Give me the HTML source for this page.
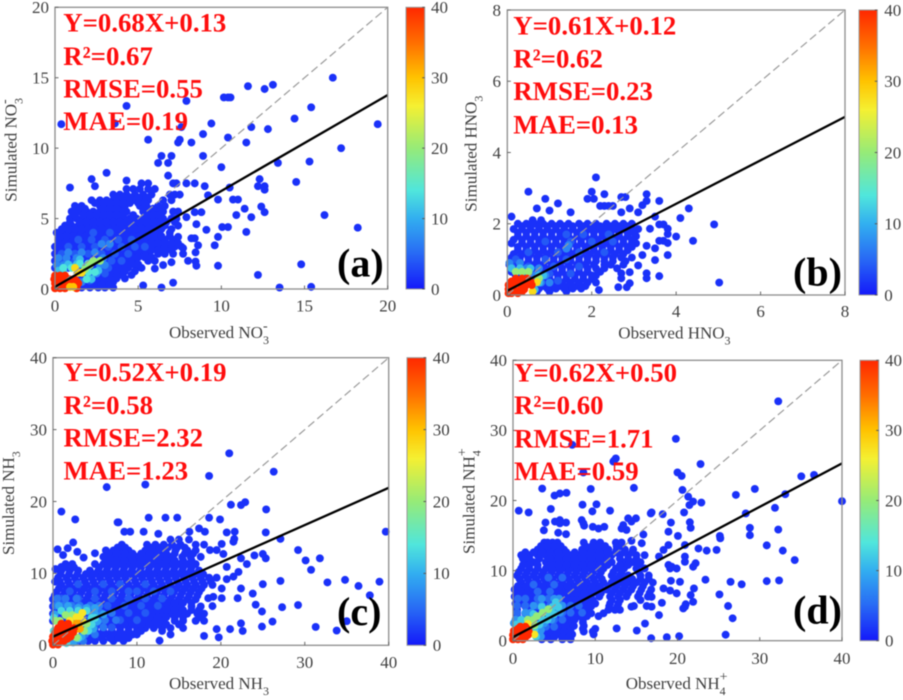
<!DOCTYPE html>
<html lang="en">
<head>
<meta charset="utf-8">
<title>Observed vs simulated scatter density panels</title>
<style>
html,body{margin:0;padding:0;background:#fff;width:903px;height:700px;overflow:hidden}
svg{display:block;filter:blur(.5px)}
text{font-family:"Liberation Serif",serif}
.tick{font-size:17px;fill:#404040}
.axis-title{font-size:17px;fill:#404040}
.stat{font-size:26.8px;font-weight:bold;fill:#ff0d0d}
.tag{font-size:40px;font-weight:bold;fill:#000}
</style>
</head>
<body>
<svg id="figure" width="903" height="700" viewBox="0 0 903 700" xmlns="http://www.w3.org/2000/svg">
<defs>
<linearGradient id="cbGradient" x1="0" y1="1" x2="0" y2="0"></linearGradient>
</defs>
<rect width="903" height="700" fill="#fff"/>

<g id="panel-a"></g>
<g id="panel-b"></g>
<g id="panel-c"></g>
<g id="panel-d"></g>

<g>
<text class="stat" x="63.3" y="31.7">Y=0.68X+0.13</text>
<text class="stat" x="63.3" y="65">R²=0.67</text>
<text class="stat" x="63.3" y="97.3">RMSE=0.55</text>
<text class="stat" x="63.3" y="130">MAE=0.19</text>
<text class="tag" x="337" y="276.7">(a)</text>
<text class="axis-title" x="169" y="338">Observed NO<tspan font-size="12" dy="6">3</tspan><tspan font-size="14" dx="-6" dy="-14">-</tspan></text>
<text class="axis-title" transform="translate(16.7,201.7) rotate(-90)">Simulated NO<tspan font-size="12" dy="6">3</tspan><tspan font-size="14" dx="-6" dy="-14">-</tspan></text>
</g>

<g>
<text class="stat" x="513.3" y="34.3">Y=0.61X+0.12</text>
<text class="stat" x="513.3" y="67.7">R²=0.62</text>
<text class="stat" x="513.3" y="100">RMSE=0.23</text>
<text class="stat" x="513.3" y="133.3">MAE=0.13</text>
<text class="tag" x="793" y="285.7">(b)</text>
<text class="axis-title" x="618.3" y="338.3">Observed HNO<tspan font-size="12" dy="6">3</tspan></text>
<text class="axis-title" transform="translate(476.7,211.7) rotate(-90)">Simulated HNO<tspan font-size="12" dy="6">3</tspan></text>
</g>

<g>
<text class="stat" x="63.5" y="381">Y=0.52X+0.19</text>
<text class="stat" x="63.5" y="414">R²=0.58</text>
<text class="stat" x="63.5" y="446.7">RMSE=2.32</text>
<text class="stat" x="63.5" y="479.3">MAE=1.23</text>
<text class="tag" x="337" y="625">(c)</text>
<text class="axis-title" x="169" y="689">Observed NH<tspan font-size="12" dy="6">3</tspan></text>
<text class="axis-title" transform="translate(14,555) rotate(-90)">Simulated NH<tspan font-size="12" dy="6">3</tspan></text>
</g>

<g>
<text class="stat" x="514" y="381.7">Y=0.62X+0.50</text>
<text class="stat" x="514" y="414">R²=0.60</text>
<text class="stat" x="514" y="447.3">RMSE=1.71</text>
<text class="stat" x="514" y="480">MAE=0.59</text>
<text class="tag" x="793" y="623.3">(d)</text>
<text class="axis-title" x="625.7" y="689">Observed NH<tspan font-size="12" dy="6">4</tspan><tspan font-size="14" dx="-6" dy="-14">+</tspan></text>
<text class="axis-title" transform="translate(474.3,554) rotate(-90)">Simulated NH<tspan font-size="12" dy="6">4</tspan><tspan font-size="14" dx="-6" dy="-14">+</tspan></text>
</g>
</svg>

<script>
// Tick labels
const ticksA = [0, 5, 10, 15, 20];
const ticksB = [0, 2, 4, 6, 8];
const ticksC = [0, 10, 20, 30, 40];
const ticksD = [0, 10, 20, 30, 40];
const colorbarTicks = [0, 10, 20, 30, 40];

// Fit line: simulated value at x = 0 and at x = axis maximum
const fitA = [0.15, 13.77];
const fitB = [0.12, 5.0];
const fitC = [1.2, 21.9];
const fitD = [0.5, 25.3];

// Colour map: [density, r, g, b]
const colorStops = [[0,20,25,250],[5,40,105,245],[10,50,175,240],[14,80,230,220],[20,150,235,120],[26,245,240,50],[30,255,195,0],[35,255,110,0],[40,255,40,0]];

// Points grouped by density. Group = [density, row, row, ...]; row = [simulated, observed, observed, ...]
const pointsA = [
[1.5,[11.7,.38,19.4],[13,4.3],[11.75,3.6,9.4],[13.35,7.9],[14.4,11.6],[14.2,12.6],[14.5,13.1],[15,16.7],[12.9,15.4],[12.1,14.4],[13.6,10.15,10.4,10.55],[11.5,11.8,7.6],[11.35,12.8],[11,8.9],[10.75,10.4],[10.4,11.5,7.4,8.2],[10.6,5.6,7.5],[9.45,8.9,6.4,7],[8.95,6.2,6.8,13.4],[8.65,10],[8.05,6.8],[8.25,3.1],[7.8,2.2,12.3],[7.3,2.4,12.2,12.6,9],[7.2,.9,10.5],[7.7,4.3],[10,17.2],[9.05,15.3],[7.6,14.5],[7.05,12.6],[7.5,8.4,7.9,7.3,7.1],[6.65,9.2],[6.35,9.8,10.7,11],[5.7,11.4],[5.85,12.4],[5.45,12.6,8.8,8.4],[5.1,11.8,7.9],[5.25,10.9,16.2],[4.35,18.2],[4.4,10.05,10.4],[4.6,8.5],[4.2,9.1],[3.7,9.8,7.4],[3.1,9.6,8.6],[4.05,11.5],[1.75,14.8],[1,12.2],[1.65,9.8,8.5],[.45,7.1],[.1,6.4,13.5],[.25,5.3],[.15,15.4],[1.95,8.45],[2,8],[1.45,6],[1.7,6.5],[1.9,7],[2.6,8.45],[3.6,8.2,8.4],[2.9,7.7],[2.5,7.7],
[7.5,5.2,5.6],[7.1,4.3,4.7,5.1,5.6,6],[6.7,3.5,3.9,4.3,4.8,5.3,5.8,6.9,7.2,7.5],[6.3,2.2,2.7,3.1,3.5,3.9,4.3,4.8,5.2,5.6,6.5,7],[5.9,1.2,1.6,2.7,3.1,3.5,3.9,4.2,5.1,5.5,6.2,6.6],[5.5,1,1.5,1.9,2.3,2.7,3.1,3.5,3.9,4.3,5.3,5.7,6.1,6.5,7.1,7.4],[5,.9,1.3,1.7,2.1,2.5,2.9,3.3,3.7,4.1,4.5,4.9,5.3,5.7,6.1,6.5,7,7.3],[4.5,.6,1,1.4,1.8,2.2,2.6,3,3.4,3.8,4.2,4.6,5,5.4,5.8,6.2,6.6,7.4],[4,.1,.5,.9,1.3,1.7,2.1,2.5,2.9,3.3,3.7,4.1,4.5,4.9,5.3,5.7,6.1,6.9],[3.5,.2,.6,1,1.4,1.8,2.2,2.6,3,3.4,3.8,4.2,4.6,5,5.4,5.8,6.2,6.6,7.1],[3,0,.4,.8,1.2,1.6,2,2.4,2.8,3.2,3.6,4,4.4,4.8,5.2,5.6,6,6.4,6.8,7.2,7.6],[2.5,0,.4,.8,1.2,1.6,2,2.4,2.8,3.2,3.6,4,4.4,4.8,5.2,5.6,6.2,6.6,7.1],[2,0,.4,.8,1.2,1.6,2,2.4,2.8,3.2,3.6,4,4.4,4.8,5.6,6],[1.5,0,.4,.8,1.2,1.6,2,2.4,2.8,3.2,3.6,4,4.4,4.9,5.2],[1,1.5,1.9,2.3,2.7,3.1,3.5,4,4.6],[.5,1.5,1.9,2.3,2.7,3.1,3.5],[.1,1.6,2.1,2.6,3,3.5],
[6.5,3.7,4.1,4.5,5,5.5],[6.1,2.4,2.9,3.3,3.7,4.1,4.5,5,5.4],[5.7,1.4,1.8,2.9,3.3,3.7,5.3,5.9,6.4],[5.25,1.2,1.7,2.1,2.5,2.9,3.3,3.7,4.1,4.7,5.5,5.9,6.3],[4.75,.9,1.5,1.9,2.3,2.7,3.1,3.5,3.9,4.3,4.7,5.1,5.5,5.9,6.3,6.7,7.2],[4.25,.4,.8,1.2,1.6,2,2.4,2.8,3.2,3.6,4,4.4,4.8,5.2,5.6,6,6.4,7],[3.75,.3,.7,1.1,1.5,1.9,2.3,2.7,3.1,3.5,3.9,4.3,4.7,5.1,5.5,5.9,6.4,6.9],[3.25,.2,.6,1,1.4,1.8,2.2,2.6,3,3.4,3.8,4.2,4.6,5,5.4,5.8,6.2,6.6,7,7.4],[2.75,.2,.6,1,1.4,1.8,2.2,2.6,3,3.4,3.8,4.2,4.6,5,5.4,5.8,6.2,6.6,7],[2.25,.2,.6,1,1.4,1.8,2.2,2.6,3,3.4,3.8,4.2,4.6,5,5.4,5.8],[1.75,.2,.6,1,1.4,1.8,2.2,2.6,3,3.4,3.8,4.2,4.6,5],[1.25,1.7,2.1,2.5,2.9,3.3,3.7,4.2,4.8],[.75,1.7,2.1,2.5,2.9,3.3,3.7,4.2],[.3,1.8,2.3,2.8,3.3]],
[4,[4,2.3,3.3],[3.5,1.4,2.2,3,3.8,4.6],[3,.8,1.6,2.4,3.2,4,4.8,5.4],[2.5,.4,1.2,2,2.8,3.6,4.4],[2,.4,1.2,2.8,3.4,4],[1.5,1.5,2.8,3.2],[1.1,3],[.6,2.1]],
[7,[3.2,2.8,3.3],[2.6,.8,1.6,2.4],[2.2,.2,.7,1.3,2.9],[1.7,.1,.5,2.7,3],[1.1,2.5],[.5,1.6]],
[11,[2.1,1.5],[1.75,.8,1.3],[1.3,.2,.5,2.6],[.7,2.2]],
[14,[1.5,.5,1],[1.8,1.5,2],[1.2,2,2.4],[.7,1.9]],
[20,[2,2.3,2.7],[1.7,2.1],[1.4,1.8]],
[28,[1.5,1.2],[1.15,1.4,1.6]],
[40,[.95,0,.3,.6],[.7,-.05,.25,.55,.85,1.15],[.55,.15,.45,.75,1.05,1.3],[.4,0,.3,.6,.9,1.2,1.4],[.2,.15,.45,.75,1],[.05,0,.3,.6,1.3]],
[30,[.15,.9,1.1]]
];

const pointsB = [
[1.5,[3.3,2.1],[2.9,.5,2],[2.7,.9,1.9,2.05],[2.57,1.2],[2.43,.7,4.3,2.9],[2.37,1],[2.2,.1,3.5],[2.32,1.5,2.7,3.1],[2.83,2.3,3.3],[2.75,2.7,2.8],[2.64,3.6,3.3],[2.52,3.2],[2.16,4.1],[1.98,4.9,3.6,3.7],[1.52,4.4,3.6,3.7],[1.64,4],[1.86,3.8,3.38],[1.71,3.8],[1.46,3.8],[1.12,3.8,3.2],[1.31,3.5],[.98,3.5],[.83,3.1],[.61,3.3,2.7],[.47,3.3,2.7],[.53,3.6],[.35,5.02],[.14,2.17],[.64,2.9],[.33,2.9],[.22,2.63,2.83],[1.38,3.3],[2.5,2.2,2.3,2.4,2.5],
[2.1,.6,.8],[2,.25,.45,.65,.85,1.05,1.25,1.45,1.7,1.9,2.1,2.35,2.55,2.75,2.95],[1.85,.15,.35,.55,.75,.95,1.15,1.35,1.55,1.75,1.95,2.15,2.35,2.55,2.75,2.95,3.1],[1.65,.25,.45,.65,.85,1.05,1.25,1.45,1.65,1.85,2.05,2.25,2.45,2.65,2.85,3.05],[1.45,.1,.35,.55,.75,.95,1.15,1.35,1.55,1.75,1.95,2.15,2.35,2.55,2.75,2.95,3.05],[1.25,.25,.45,.65,.85,1.05,1.25,1.45,1.65,1.85,2.05,2.25,2.45,2.65,2.85],[1.05,.1,.3,.5,.7,.9,1.1,1.3,1.5,1.7,1.9,2.1,2.3,2.5,2.7,2.95],[.85,.05,.25,.45,.65,.85,1.05,1.25,1.45,1.65,1.85,2.05,2.3,2.45,2.75],[.65,.1,.3,.5,.7,.9,1.1,1.3,1.5,1.7,1.9,2.2],[.45,.4,.6,.8,1,1.2,1.4,1.6,1.8,2],[.25,.65,.85,1.05,1.25,1.45,1.65,1.85],[.1,.7,1,1.4],
[1.93,.35,.55,.75,.95,1.15,1.35,1.55,1.8,2,2.2,2.45,2.65,2.85],[1.75,.25,.45,.65,.85,1.05,1.25,1.45,1.65,1.85,2.05,2.25,2.45,2.65,2.85,3],[1.55,.15,.35,.55,.75,.95,1.15,1.35,1.55,1.75,1.95,2.15,2.35,2.55,2.75,2.95],[1.35,.25,.45,.65,.85,1.05,1.25,1.45,1.65,1.85,2.05,2.25,2.45,2.65,2.85,2.95],[1.15,.15,.35,.55,.75,.95,1.15,1.35,1.55,1.75,1.95,2.15,2.35,2.55,2.75],[.95,.1,.3,.5,.7,.9,1.1,1.3,1.5,1.7,1.9,2.1,2.3,2.5,2.8],[.75,.1,.3,.5,.7,.9,1.1,1.3,1.5,1.7,1.9,2.1,2.3,2.6],[.55,.2,.4,.6,.8,1,1.2,1.4,1.6,1.8,2,2.1],[.35,.5,.7,.9,1.1,1.3,1.5,1.7,1.9,2.1],[.18,.75,.95,1.15,1.35,1.55,1.75]],
[4,[1.7,1.4,1.8,2.4],[1.5,.9,1.5,2,2.5],[1.2,.5,1.2,1.7,2.3],[1,.2,.9,1.4],[.8,.1,.5,1.1,1.7],[.6,.5,1,1.5],[.4,.7,1.2]],
[7,[1.4,1.45],[1.3,1.4],[.9,.05,.3],[.75,.1,.45,.75],[.55,.65,.9],[.35,.8,1]],
[11,[.75,.1,.3,.55],[.55,.75,.85],[.35,.75],[.15,.65]],
[20,[.65,.2,.35,.5],[.47,.75]],
[28,[.36,.7],[.1,.6]],
[40,[.46,.2,.35,.47],[.38,.1,.25,.4,.55],[.33,.1,.22,.35,.5],[.28,.03,.15,.3,.45,.58],[.16,.03,.12,.25,.4],[.1,.1,.2,.35],[.05,.03,.1,.25]]
];

const pointsC = [
[1.5,[26.7,21],[24.15,26.3],[23.55,18.6],[22.35,11],[22,6.4],[18.6,1],[17.5,2.65,19.9],[17.1,7.8,7.7],[17.75,11.4,13.4,14.8,18.6],[19.55,21.2],[19.5,22.4],[19.9,22.9],[18.9,25.4],[15.7,25.35,20.7],[15.8,39.65,21.65,10.8,8.5,9.2,16.25,18.1],[14.8,27.1,21.6],[13.25,29.2,18.7,19.5],[11.8,30.1],[12.1,31.8,22.4,25.35],[10.5,30.75],[8.95,27.1],[8.5,25],[8.75,32.7],[9.1,34.8],[8.25,36.4],[8.85,38.9],[6.95,37.75],[5.6,29.2],[5.3,27.3],[5.65,24.15],[4.7,24.9],[3.3,26.15],[2.6,24.9],[2.55,31.3],[2.05,33.8],[3.35,35],[2.25,21.1,19.5],[2,22.6],[3.05,22.4],[1.3,18],[1.1,19.75],[.65,12.7],[7.2,23.8],[7.9,22.4,20.1],[6.55,22,20.1,18.5],[12.7,25,20.3],[12.5,24],[11.3,23.1],[14.4,21.5],[14.1,20.1],[14.3,2.4],[13.5,1.75],[13.35,.55],[12.55,1.2],[13,2.9],[12.2,3.65],[12.8,5],[10.6,.3],[8.85,.25],[10.9,1,20.7],[15.5,12.55],[16.25,17.4],[10.2,22.1],[9.55,21.5],[9.2,20.7],[6.75,19.1],[5.45,19],
[14.7,14,15,16.2],[14,8.2,11.2,12.2,13.2,14.2,15.2,17,18],[13.2,6.3,7.2,8.2,9,11,12,13,14.6,16,17],[12.3,6,7,8,9,10,11,12,13,14,15.4,16.4,17.6],[11.3,1.5,2.3,5,6,7,8,9,10,11,12,13,14,15,16,17],[10.4,1,2,3,4.4,5.4,6.4,7.4,8.4,9.4,10.4,11.4,12.4,13.4,14.4,15.4,16.4,17.4],[9.4,.6,1.6,2.6,3.6,4.6,5.6,6.6,7.6,8.6,9.6,10.6,11.6,12.6,13.6,14.6,15.6,16.6,17.6,18.6,19.5],[8.4,1,2,3,4,5,6,7,8,9,10,11,12,13,14,15,16,17,18,19],[7.4,.4,1.4,2.4,3.4,4.4,5.4,6.4,7.4,8.4,9.4,10.4,11.4,12.4,13.4,14.4,15.4,16.4,17.4],[6.4,0,1,2,3,4,5,6,7,8,9,10,11,12,13,14,15,16,17],[5.4,0,1,2,3,4,5,6,7,8,9,10,11,12,13,14,15,16.5,17.6],[4.4,0,1,2,3,4,5,6,7,8,9,10,11,12,13,14,15,16,17.2,18],[3.4,0,1,2,3,4,5,6,7,8,9,10,11,12,13,14.5,15.5,17,18],[2.4,4,5,6,7,8,9,10,11,12,13,14,15.5],[1.5,3.5,4.5,5.5,6.5,7.5,8.5,9.5,10,14],[.6,3.2,4.2,5,6,7.2,8.4],
[13.6,7.7,8.6,11.7,12.7,13.7,14.8,15.7],[12.75,6.6,7.6,8.6,9.5,10.5,11.5,12.5,13.5,14.5,15.7,16.7],[11.8,6.5,7.5,8.5,9.5,10.5,11.5,12.5,13.5,14.5,15.5,16.5],[10.85,1.5,2.5,5.5,6.5,7.5,8.5,9.5,10.5,11.5,12.5,13.5,14.5,15.5,16.5],[9.9,.9,1.9,2.9,3.9,4.9,5.9,6.9,7.9,8.9,9.9,10.9,11.9,12.9,13.9,14.9,15.9,16.9,17.9],[8.9,.8,1.8,2.8,3.8,4.8,5.8,6.8,7.8,8.8,9.8,10.8,11.8,12.8,13.8,14.8,15.8,16.8,17.8,18.8],[7.9,.7,1.7,2.7,3.7,4.7,5.7,6.7,7.7,8.7,9.7,10.7,11.7,12.7,13.7,14.7,15.7,16.7,17.7],[6.9,.2,1.2,2.2,3.2,4.2,5.2,6.2,7.2,8.2,9.2,10.2,11.2,12.2,13.2,14.2,15.2,16.2,17.2],[5.9,.5,1.5,2.5,3.5,4.5,5.5,6.5,7.5,8.5,9.5,10.5,11.5,12.5,13.5,14.5,15.5,16.5],[4.9,.5,1.5,2.5,3.5,4.5,5.5,6.5,7.5,8.5,9.5,10.5,11.5,12.5,13.5,14.5,15.5,16.5,17.4],[3.9,.5,1.5,2.5,3.5,4.5,5.5,6.5,7.5,8.5,9.5,10.5,11.5,12.5,13.5,14.5,15.5,17.5],[2.9,4.5,5.5,6.5,7.5,8.5,9.5,10.5,11.5,12.5,13.5,15],[2,4,5,6,7,8,9,10,10.5,13],[1,3.8,4.8,5.8,6.8,7.8,9]],
[4,[8.5,3,6,8,11],[7.5,2,5,7,9,10,12,14],[6.5,1,3,5,7,9,11,13],[5.5,.5,2.5,4.5,6.5,8.5,10.5,12.5],[4.5,3,5,7,9,11],[3.5,4,6,8,10],[2.5,5,7]],
[6,[6.5,.5,1.5,2.8],[5.5,.3,1.2,2.2,3.2,4.4,5.5],[4.5,4.5,5.7,7],[3.5,5,6.2,7.5],[2.5,4.8,6],[1.5,3.8,5],[.6,2.8,3.6]],
[9,[5.5,.7,1.8],[5.2,3,4,5],[4.3,.2,5,6],[3.3,5.3],[2.3,4.8],[1.2,3.4],[.4,2.4]],
[13,[4.8,1,2,3,4],[3.8,.1,4.6,5],[2.9,4.6],[2,.1,4.2],[1,3],[.3,1.6]],
[20,[4.2,1.5,2.3],[3.4,.3,.8],[3,4],[2,3.7],[1.1,2.8]],
[27,[4.5,3.5],[3.9,2.8,3.2],[3.4,2,3.5]],
[32,[3,2.8,3.1],[2.3,2.9,3.2]],
[40,[3,1,1.8],[2.7,1.8],[2.4,.6,1.3,2,2.5],[2.1,.9,1.6,2.2],[1.8,.3,1,1.7,2.4],[1.5,.4,1.1,1.8],[1.2,0,.7,1.4,2.1],[.9,.3,1,1.7],[.6,-.1,.6,1.3],[.1,0,.6]]
];

const pointsD = [
[1.5,[34.15,32.25],[28.8,19.8],[27.95,7.2],[25.7,12.3],[26,12.5],[25.55,12.2],[25.2,22.8],[24,8.55,20],[23.5,20.5],[23.45,35.05],[23.65,36.6],[21.7,3.55],[21.65,9.45,29.4],[21.8,14.7],[21.5,20.6],[20.8,27.1],[20.9,33.1],[20.7,5.05],[21,5.7],[21.1,6.5],[20.55,21.3],[19.35,21.45],[19.85,21.9],[19.7,22.9],[19.9,40],[18.55,.7,11.8],[18.3,1.9,16.85,20.8],[18.8,4.6],[19.4,8.45],[19.45,10.15],[18.45,9.65],[18.15,16.75,28.3],[18.05,18.2],[18.95,31.85],[16.85,3.95,6.45,19.2],[15.75,3.75],[17,5.1,14.4],[17.2,5.7,8.35],[16.75,5.7,8.55],[15.4,5.5],[15.2,6.45],[16.4,8.65],[16.25,9.7,11.1],[16,10.4,13.2],[16.5,13.4],[15.8,13.8],[17.45,14,14.95],[15.55,18.9],[14.95,20.05,25.15],[16.9,21.5],[16.1,21.6,28.8],[14.6,25.2],[15.05,28.8],[15.85,32.25],[13.6,30.85],[12.85,32.8,23.55],[11.5,34.25],[8.5,30.85],[8.6,32.35],[8.4,26.45,20.3],[8.05,27.8],[8.7,23.4],[6.6,25.1],[4.95,26.15],[3.2,26.7],[.85,25.85],[.65,20.2],[.5,18.7],[.35,16.8],[1.45,15.05],[1.75,12.6],[2.45,16.05],[3.65,17.75],[5.4,18.1],[4.85,14.4,16.85,20.9],[4.95,14.7,16.25],[4.6,20.7],[5.2,21],[5.55,21.9],[6.5,21.6],[7.45,22,18.3],[7.15,19.1],[6.75,19.9],[6.25,16.85],[10.8,18.9],[10.55,19.3,21.9],[10.3,19.9,19.1],[8.55,19.2],[12,20.9,17.75],[11.25,20.9],[11.05,22.2],[13.15,22.55],[12.95,24.75,18.3],[13.65,20.9,18.9],[13.9,15.65],[15.15,15.85],[14.25,14.4],
[14,3.8,4.2,4.8,5.4,8.6,9.8,10.6,12.5,13.2],[13,3,3.8,4.6,5.4,6.2,8.4,9.2,10,10.8,11.6,12.6,13.6,14.6],[12.2,1,2,3,4,5,6,7,8,9,10,11,12,13,14,15,16],[11.2,1.5,2.5,4,5,6,7,8,9,10,11,12,13.5,14.5,15.5],[10.3,1,2,3,4,5,6,7,8,9,10,11,12.5,13.5,15,16],[9.3,.5,1.5,2.5,3.5,4.5,5.5,6.5,7.5,8.5,9.5,10.5,12,13,14,15.5,16.5],[8.3,1,2,3,4,5,6,7,8,9,10,11,12,13,14,15,16,17],[7.3,.2,1.2,2.2,3.2,4.2,5.2,6.2,7.2,8.2,9.2,10.2,11.4,12.4,13.4,14.4,15.6,16.8],[6.3,.2,1.2,2.2,3.2,4.2,5.2,6.2,7.2,8.2,9.2,10.5,11.8,12.8,13.8,15.2,16.4],[5.3,.3,1.2,2.2,3.2,4.2,5.2,6.2,7.2,8.2,9.2,10,11.8,12.8],[4.4,.5,2,3,4,5,6,7,8,9,11.6,12.4,13],[3.5,.5,2,3,4,5,6,7,8,9,10.4],[2.6,.2,2.4,3.2,4,5,6,7,8.5],[1.7,3,3.8,4.6,5.4,6.2,7,8.5,10],[.9,3,3.8,4.6,5.4,6.3,7.2,9.8],[.2,3.5,4.6,6,7],
[13.5,3.4,4.2,5,5.8,8.8,9.6,10.4,11.2,12.6,13.2],[12.6,1.5,2.5,3.5,4.5,5.5,6.5,7.5,8.5,9.5,10.5,11.5,12.5,13.5,14.5],[11.7,1.2,2,3.2,4.5,5.5,6.5,7.5,8.5,9.5,10.5,11.5,13,14,15],[10.8,1.2,2,3,4.5,5.5,6.5,7.5,8.5,9.5,10.5,11.5,13,14,15.2],[9.8,.7,1.7,2.7,3.7,4.7,5.7,6.7,7.7,8.7,9.7,10.7,12.2,13.2,15.3],[8.8,.8,1.8,2.8,3.8,4.8,5.8,6.8,7.8,8.8,9.8,10.8,12.5,13.5,14.5,15.5,16.5],[7.8,.6,1.6,2.6,3.6,4.6,5.6,6.6,7.6,8.6,9.6,10.6,11.6,12.6,13.6,14.6,15.8],[6.8,.7,1.7,2.7,3.7,4.7,5.7,6.7,7.7,8.7,9.7,10.7,12,13,14,15.4,16.6],[5.8,.7,1.7,2.7,3.7,4.7,5.7,6.7,7.7,8.7,9.7,12,13,15.5],[4.9,.5,1.5,2.5,3.5,4.5,5.5,6.5,7.5,8.5,9.5,11.7,12.7],[3.9,.5,1.5,2.5,3.5,4.5,5.5,6.5,7.5,8.5,9.5,11],[3,.5,1.5,2.5,3.5,4.5,5.5,6.5,7.5,8.5],[2.1,2.5,3.4,4.4,5.4,6.4,7.4,8.6],[1.3,3,3.8,4.6,5.4,6.2,7,8.6,9.7],[.5,3.2,4,5,6,6.8]],
[5,[9,4.3,6],[8,2.5,5],[7,3,4.5],[6,.6,1.5,3,4.3],[5,.5,1.5,3,4.5,7,8],[4,.5,1.6,6,7,8.4],[3,.4,1.6,5,6],[2,4,5]],
[8,[6,3.5,5,5.6],[5,2.5,3.5,6],[4,1.5,2.2,5.7],[3,.3,1,4.7],[2.5,.1,3.8],[1.5,2.8,3.4],[.6,3,3.4]],
[12,[5.5,5.2],[4.8,3.5,4.8,5.5],[3.8,2.5,4.4,5],[3,1,3.6,4.2],[2.3,.4,3.2],[1.6,2.6],[.6,2.8]],
[20,[4.5,4.3],[4,3.6],[3.5,2.9],[3,1.8,2.5],[2.2,2.6]],
[27,[.9,2.6],[2.4,1.8]],
[40,[2,.9,1.5],[1.7,.6,1.2,1.7],[1.4,.1,.7,1.3,1.9],[1.1,.4,1,1.6],[.8,0,.6,1.2,1.8],[.5,.3,.9,1.5],[.2,0,.6,1.2]]
];

const SVG_NS = 'http://www.w3.org/2000/svg';

// Panel geometry (pixels) kept apart from the data arrays
const layoutA = {left:55, right:387.7, top:7.3, bottom:289, cbLeft:406, cbRight:424.7, cbLabel:431, xLabelY:311.7, yLabelX:49};
const layoutB = {left:507.3, right:845, top:10, bottom:295, cbLeft:859, cbRight:877.3, cbLabel:884.3, xLabelY:317, yLabelX:501};
const layoutC = {left:53, right:388.7, top:357.7, bottom:645.3, cbLeft:407, cbRight:426, cbLabel:432.7, xLabelY:668, yLabelX:47};
const layoutD = {left:513, right:842, top:360.3, bottom:640.7, cbLeft:860, cbRight:878.7, cbLabel:885, xLabelY:664, yLabelX:507};

function colorFor(density) {
  for (let i = 1; i < colorStops.length; i++) {
    const a = colorStops[i - 1], b = colorStops[i];
    if (density <= b[0]) {
      const t = (density - a[0]) / (b[0] - a[0]);
      return 'rgb(' + [1, 2, 3].map(function (k) { return Math.round(a[k] + (b[k] - a[k]) * t); }).join(',') + ')';
    }
  }
  const last = colorStops[colorStops.length - 1];
  return 'rgb(' + last[1] + ',' + last[2] + ',' + last[3] + ')';
}

function makeEl(tag, parent, attrs) {
  const el = document.createElementNS(SVG_NS, tag);
  for (const k in attrs) el.setAttribute(k, attrs[k]);
  parent.appendChild(el);
  return el;
}

const gradient = document.getElementById('cbGradient');
colorStops.forEach(function (s) {
  makeEl('stop', gradient, {offset: (s[0] / 40 * 100) + '%', 'stop-color': 'rgb(' + s[1] + ',' + s[2] + ',' + s[3] + ')'});
});

function drawPanel(id, points, ticks, fit, layout) {
  const group = document.getElementById('panel-' + id);
  const axisMax = ticks[ticks.length - 1];
  const xScale = function (v) { return layout.left + (v / axisMax) * (layout.right - layout.left); };
  const yScale = function (v) { return layout.bottom - (v / axisMax) * (layout.bottom - layout.top); };
  const cbScale = function (v) { return layout.bottom - (v / 40) * (layout.bottom - layout.top); };

  points.forEach(function (densityGroup) {
    const density = densityGroup[0];
    densityGroup.slice(1).forEach(function (row) {
      row.slice(1).forEach(function (observed) {
        const dot = makeEl('circle', group, {cx: xScale(observed), cy: yScale(row[0]), r: 3.95, fill: colorFor(density)});
        
        
      });
    });
  });

  const refLine = makeEl('line', group, {x1: xScale(0), y1: yScale(0), x2: xScale(axisMax), y2: yScale(axisMax), stroke: '#9a9a9a', 'stroke-width': 1.2, 'stroke-dasharray': '8 4'});
  
  

  const fitLine = makeEl('line', group, {x1: xScale(0), y1: yScale(fit[0]), x2: xScale(axisMax), y2: yScale(fit[1]), stroke: '#000', 'stroke-width': 2.3});
  
  

  const frame = makeEl('rect', group, {x: layout.left, y: layout.top, width: layout.right - layout.left, height: layout.bottom - layout.top, fill: 'none', stroke: '#8c8c8c', 'stroke-width': 1.3});
  
  

  ticks.forEach(function (t) {
    const xTick = makeEl('line', group, {x1: xScale(t), x2: xScale(t), y1: layout.bottom, y2: layout.bottom - 3.5, stroke: '#666', 'stroke-width': 1});
    
    
    const yTick = makeEl('line', group, {x1: layout.left, x2: layout.left + 3.5, y1: yScale(t), y2: yScale(t), stroke: '#666', 'stroke-width': 1});
    
    
    const xText = makeEl('text', group, {x: xScale(t), y: layout.xLabelY, 'text-anchor': 'middle', class: 'tick'});
    
    
    xText.textContent = String(t);
    const yText = makeEl('text', group, {x: layout.yLabelX, y: yScale(t) + 5.8, 'text-anchor': 'end', class: 'tick'});
    
    
    yText.textContent = String(t);
  });

  const colorbar = makeEl('rect', group, {x: layout.cbLeft, y: layout.top, width: layout.cbRight - layout.cbLeft, height: layout.bottom - layout.top, fill: 'url(#cbGradient)', stroke: '#9a9a9a', 'stroke-width': 1});
  
  

  colorbarTicks.forEach(function (t) {
    const cbTick = makeEl('line', group, {x1: layout.cbRight - 2.5, x2: layout.cbRight, y1: cbScale(t), y2: cbScale(t), stroke: '#555', 'stroke-width': 1});
    
    
    const cbText = makeEl('text', group, {x: layout.cbLabel, y: cbScale(t) + 5.8, class: 'tick'});
    
    
    cbText.textContent = String(t);
  });
}

drawPanel('a', pointsA, ticksA, fitA, layoutA);
drawPanel('b', pointsB, ticksB, fitB, layoutB);
drawPanel('c', pointsC, ticksC, fitC, layoutC);
drawPanel('d', pointsD, ticksD, fitD, layoutD);
</script>
</body>
</html>
